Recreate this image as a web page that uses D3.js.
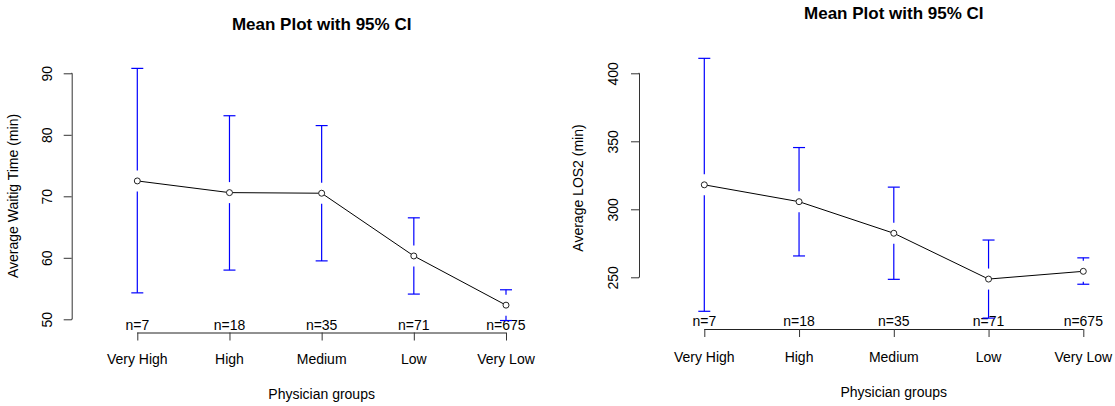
<!DOCTYPE html>
<html>
<head>
<meta charset="utf-8">
<script src="https://cdn.jsdelivr.net/npm/d3@7"></script>
<style>
  html, body { margin: 0; padding: 0; background: #fff; }
  svg { display: block; font-family: "Liberation Sans", Arial, sans-serif; }
</style>
</head>
<body>
<svg id="chart" width="1115" height="406"></svg>
<script>
// Physician groups and group sizes
const groups = ["Very High", "High", "Medium", "Low", "Very Low"];
const groupN = ["n=7", "n=18", "n=35", "n=71", "n=675"];

// Average waiting time (min) with 95% CI
const waitMean  = [72.5, 70.6, 70.5, 60.3, 52.3];
const waitLower = [54.3, 58.0, 59.5, 54.1, 49.8];
const waitUpper = [90.8, 83.1, 81.5, 66.5, 54.8];
const waitTicks = [50, 60, 70, 80, 90];

// Average LOS2 (min) with 95% CI
const losMean  = [318.0, 305.6, 282.4, 248.7, 254.4];
const losLower = [225.0, 265.7, 248.5, 220.0, 244.9];
const losUpper = [411.0, 345.4, 316.3, 277.4, 264.3];
const losTicks = [250, 300, 350, 400];

const svg = d3.select("#chart");
const FONT = 14;
const gapPx = 10.5;   // gap left around each mean on the CI bar
const capHalf = 6;

function drawPanel(p) {
  const g = svg.append("g");
  const x = d3.scalePoint().domain(groups).range(p.xRange);
  const y = d3.scaleLinear().domain(p.yDomain).range(p.yRange);

  // title
  g.append("text")
    .attr("x", (p.xRange[0] + p.xRange[1]) / 2)
    .attr("y", p.titleY)
    .attr("dy", "0.35em")
    .attr("text-anchor", "middle")
    .attr("font-size", 17)
    .attr("font-weight", "bold")
    .attr("fill", "#000")
    .text("Mean Plot with 95% CI");

  // y axis
  const yAxis = d3.axisLeft(y).tickValues(p.yTicks).tickSize(8).tickFormat(d3.format("d"));
  const ya = g.append("g")
    .attr("transform", `translate(${p.yAxisX},0)`)
    .call(yAxis);
  ya.select(".domain").attr("d", `M-0.5,${y(p.yTicks[0])}H0.5V${y(p.yTicks[p.yTicks.length - 1])}H-0.5`)
    .attr("stroke", "#333").attr("fill", "none");
  ya.selectAll(".tick line").attr("stroke", "#333");
  ya.selectAll(".tick text")
    .attr("x", null).attr("dy", null)
    .attr("font-size", FONT).attr("font-family", "Liberation Sans, Arial, sans-serif")
    .attr("fill", "#000")
    .attr("text-anchor", "middle")
    .attr("transform", `translate(${p.yLabelX - p.yAxisX},0) rotate(-90)`)
    .attr("dy", "0.35em");

  // y axis title
  g.append("text")
    .attr("transform", `translate(${p.yTitleX},${p.yTitleY}) rotate(-90)`)
    .attr("dy", "0.35em")
    .attr("text-anchor", "middle")
    .attr("font-size", FONT)
    .attr("fill", "#000")
    .text(p.yTitle);

  // x axis
  const xAxis = d3.axisBottom(x).tickSize(8).tickSizeOuter(0).tickFormat("");
  const xa = g.append("g")
    .attr("transform", `translate(0,${p.xAxisY})`)
    .call(xAxis);
  xa.select(".domain").attr("d", `M${p.xRange[0]},0.5H${p.xRange[1]}`)
    .attr("stroke", "#222").attr("fill", "none");
  xa.selectAll(".tick line").attr("stroke", "#333");

  // category labels
  g.selectAll(".cat").data(groups).join("text")
    .attr("class", "cat")
    .attr("x", d => x(d))
    .attr("y", p.catY)
    .attr("dy", "0.35em")
    .attr("text-anchor", "middle")
    .attr("font-size", FONT)
    .attr("fill", "#000")
    .text(d => d);

  // x axis title
  g.append("text")
    .attr("x", (p.xRange[0] + p.xRange[1]) / 2)
    .attr("y", p.xTitleY)
    .attr("dy", "0.35em")
    .attr("text-anchor", "middle")
    .attr("font-size", FONT)
    .attr("fill", "#000")
    .text("Physician groups");

  // group sizes
  g.selectAll(".nlab").data(groups).join("text")
    .attr("class", "nlab")
    .attr("x", d => x(d))
    .attr("y", p.nY)
    .attr("dy", "0.35em")
    .attr("text-anchor", "middle")
    .attr("font-size", FONT)
    .attr("fill", "#000")
    .text((d, i) => groupN[i]);

  // CI bars with a gap around each mean
  const rows = groups.map((d, i) => ({ g: d, m: p.mean[i], lo: p.lower[i], hi: p.upper[i] }));
  const ci = g.append("g").attr("stroke", "#0000ff").attr("stroke-width", 1.2).attr("fill", "none");
  rows.forEach(r => {
    const cx = x(r.g);
    const ym = y(r.m), yl = y(r.lo), yh = y(r.hi);
    if (ym - gapPx > yh) ci.append("line").attr("x1", cx).attr("x2", cx).attr("y1", yh).attr("y2", ym - gapPx);
    if (ym + gapPx < yl) ci.append("line").attr("x1", cx).attr("x2", cx).attr("y1", ym + gapPx).attr("y2", yl);
    ci.append("line").attr("x1", cx - capHalf).attr("x2", cx + capHalf).attr("y1", yh).attr("y2", yh);
    ci.append("line").attr("x1", cx - capHalf).attr("x2", cx + capHalf).attr("y1", yl).attr("y2", yl);
  });

  // mean line and points
  const line = d3.line().x(r => x(r.g)).y(r => y(r.m));
  g.append("path").datum(rows)
    .attr("d", line)
    .attr("fill", "none")
    .attr("stroke", "#000")
    .attr("stroke-width", 1);
  g.selectAll(".pt").data(rows).join("circle")
    .attr("class", "pt")
    .attr("cx", r => x(r.g))
    .attr("cy", r => y(r.m))
    .attr("r", 3)
    .attr("fill", "#fff")
    .attr("stroke", "#222")
    .attr("stroke-width", 1);
}

drawPanel({
  xRange: [137.3, 506], yDomain: [50, 90], yRange: [319.3, 73.3], yTicks: waitTicks,
  yAxisX: 71.7, yLabelX: 46.7, yTitleX: 13, yTitleY: 196,
  xAxisY: 332.5, nY: 325, catY: 359.3, xTitleY: 394, titleY: 24,
  yTitle: "Average Waitig Time (min)",
  mean: waitMean, lower: waitLower, upper: waitUpper
});

drawPanel({
  xRange: [704.3, 1083.3], yDomain: [250, 400], yRange: [277.3, 73.3], yTicks: losTicks,
  yAxisX: 639, yLabelX: 612.7, yTitleX: 578.3, yTitleY: 188,
  xAxisY: 329, nY: 320.7, catY: 356.7, xTitleY: 392, titleY: 13.3,
  yTitle: "Average LOS2 (min)",
  mean: losMean, lower: losLower, upper: losUpper
});
</script>
</body>
</html>
